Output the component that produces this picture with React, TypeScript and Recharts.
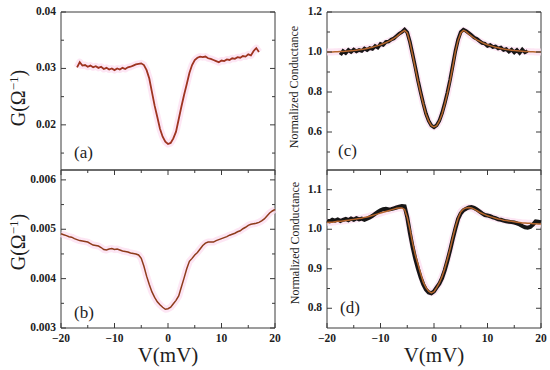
import React from 'react';
import { LineChart, Line, XAxis, YAxis, ReferenceArea } from 'recharts';

// bias voltage (mV), shared by all four panels
const volts = [
  -20, -19.5, -19, -18.5, -18, -17.5, -17, -16.5, -16, -15.5,
  -15, -14.5, -14, -13.5, -13, -12.5, -12, -11.5, -11, -10.5,
  -10, -9.5, -9, -8.5, -8, -7.5, -7, -6.5, -6, -5.5,
  -5, -4.5, -4, -3.5, -3, -2.5, -2, -1.5, -1, -0.5,
  0, 0.5, 1, 1.5, 2, 2.5, 3, 3.5, 4, 4.5,
  5, 5.5, 6, 6.5, 7, 7.5, 8, 8.5, 9, 9.5,
  10, 10.5, 11, 11.5, 12, 12.5, 13, 13.5, 14, 14.5,
  15, 15.5, 16, 16.5, 17, 17.5, 18, 18.5, 19, 19.5,
  20,
];

// (a) G (1/ohm)
const gA = [
  null, null, null, null, null, null, 0.0302, 0.0311, 0.0305, 0.0306,
  0.0303, 0.0305, 0.0302, 0.0304, 0.0301, 0.0303, 0.0299, 0.0301, 0.0298, 0.03,
  0.0297, 0.03, 0.0298, 0.0301, 0.0299, 0.0302, 0.0303, 0.0305, 0.0307, 0.0308,
  0.0309, 0.0306, 0.0297, 0.0282, 0.0258, 0.0234, 0.0214, 0.0193, 0.0179, 0.017,
  0.0166, 0.0168, 0.0176, 0.0188, 0.021, 0.0232, 0.0253, 0.0272, 0.0292, 0.0306,
  0.0315, 0.0319, 0.0321, 0.032, 0.0321, 0.0318, 0.0317, 0.0315, 0.0313, 0.0311,
  0.0314, 0.0313, 0.0316, 0.0315, 0.0318, 0.0317, 0.032, 0.0319, 0.0322, 0.0321,
  0.0325, 0.0323, 0.0331, 0.0336, 0.0329, null, null, null, null, null,
  null,
];

// (b) G (1/ohm)
const gB = [
  0.00491, 0.00489, 0.00487, 0.00485, 0.00484, 0.00481, 0.00479, 0.00477, 0.00476, 0.00475,
  0.00474, 0.00471, 0.00468, 0.00467, 0.00466, 0.00463, 0.00459, 0.00458, 0.0046, 0.00461,
  0.00459, 0.0046, 0.00458, 0.00456, 0.00455, 0.00454, 0.00452, 0.00451, 0.0045, 0.00448,
  0.00441, 0.00425, 0.00405, 0.00388, 0.00373, 0.00362, 0.00353, 0.00347, 0.00342, 0.00338,
  0.00339, 0.00342, 0.00349, 0.00356, 0.00365, 0.00383, 0.00401, 0.0042, 0.00435, 0.00441,
  0.00448, 0.00453, 0.0046, 0.00467, 0.00472, 0.00474, 0.00474, 0.00474, 0.00477, 0.00479,
  0.00481, 0.00483, 0.00485, 0.00488, 0.0049, 0.00492, 0.00495, 0.00497, 0.00501, 0.00504,
  0.00508, 0.0051, 0.00511, 0.00512, 0.00514, 0.00517, 0.00521, 0.00527, 0.00533, 0.00537,
  0.0054,
];

// (c) normalized conductance: fit and measured
const cFit = [
  1.0, 1.0, 1.0, 1.001, 1.001, 1.002, 1.003, 1.004, 1.005, 1.006,
  1.007, 1.009, 1.011, 1.013, 1.015, 1.018, 1.021, 1.024, 1.028, 1.032,
  1.036, 1.041, 1.047, 1.053, 1.06, 1.068, 1.077, 1.088, 1.1, 1.108,
  1.095, 1.048, 0.985, 0.92, 0.855, 0.795, 0.74, 0.69, 0.655, 0.632,
  0.625, 0.632, 0.655, 0.69, 0.738, 0.792, 0.855, 0.925, 1.002, 1.058,
  1.095, 1.108, 1.102, 1.09, 1.079, 1.07, 1.061, 1.054, 1.047, 1.041,
  1.036, 1.032, 1.028, 1.024, 1.021, 1.018, 1.015, 1.013, 1.011, 1.009,
  1.007, 1.006, 1.005, 1.004, 1.003, 1.002, 1.001, 1.001, 1.0, 1.0,
  1.0,
];
const cData = [
  null, null, null, null, null, 0.985, 1.005, 0.995, 1.01, 1.0,
  1.012, 1.003, 1.01, 1.005, 1.018, 1.01, 1.02, 1.015, 1.03, 1.022,
  1.04, 1.035, 1.05, 1.052, 1.062, 1.068, 1.08, 1.092, 1.1, 1.112,
  1.098, 1.05, 0.988, 0.925, 0.858, 0.798, 0.742, 0.692, 0.656, 0.633,
  0.624, 0.634, 0.656, 0.694, 0.742, 0.797, 0.86, 0.932, 1.005, 1.062,
  1.1, 1.112, 1.105, 1.095, 1.085, 1.072, 1.066, 1.055, 1.045, 1.042,
  1.03, 1.035, 1.025, 1.028, 1.018, 1.022, 1.01, 1.015, 1.002, 1.012,
  0.998, 1.01, 0.995, 1.012, 0.998, 1.005, null, null, null, null,
  null,
];

// (d) normalized conductance: fit and measured
const dFit = [
  1.017, 1.018, 1.018, 1.019, 1.02, 1.02, 1.021, 1.022, 1.023, 1.024,
  1.025, 1.026, 1.027, 1.028, 1.03, 1.031, 1.033, 1.035, 1.037, 1.039,
  1.041, 1.043, 1.045, 1.047, 1.049, 1.051, 1.053, 1.054, 1.054, 1.05,
  1.03, 1.0, 0.965, 0.935, 0.912, 0.888, 0.866, 0.852, 0.843, 0.839,
  0.842, 0.852, 0.864, 0.88, 0.9, 0.924, 0.95, 0.978, 1.005, 1.028,
  1.044, 1.051, 1.054, 1.055, 1.054, 1.051, 1.047, 1.043, 1.04, 1.037,
  1.034, 1.032, 1.03, 1.028, 1.026, 1.025, 1.023, 1.022, 1.021, 1.02,
  1.019, 1.018, 1.017, 1.016, 1.016, 1.015, 1.015, 1.014, 1.014, 1.013,
  1.013,
];
const dData = [
  1.022, 1.02, 1.024, 1.022, 1.025, 1.021, 1.024, 1.026, 1.023, 1.027,
  1.024, 1.028, 1.025, 1.027, 1.024, 1.027, 1.03, 1.034, 1.039, 1.044,
  1.048, 1.051, 1.052, 1.05, 1.051, 1.053, 1.055, 1.057, 1.059, 1.058,
  1.03, 0.99, 0.955, 0.925, 0.9, 0.878, 0.86, 0.847, 0.84, 0.838,
  0.843, 0.853, 0.862, 0.876, 0.896, 0.92, 0.946, 0.975, 1.002, 1.026,
  1.04, 1.048, 1.052, 1.055, 1.056, 1.054, 1.05, 1.045, 1.04, 1.036,
  1.035, 1.033, 1.03, 1.028, 1.025, 1.024, 1.022, 1.02, 1.019, 1.018,
  1.017, 1.015, 1.012, 1.008, 1.005, 1.004, 1.006, 1.012, 1.02, 1.019,
  1.018,
];

// ticks ('' = minor tick, no label)
const xTicks = [-20, -15, -10, -5, 0, 5, 10, 15, 20];
const xLabels = ['\u221220', '', '\u221210', '', '0', '', '10', '', '20'];
const aTicks = [0.015, 0.02, 0.025, 0.03, 0.035, 0.04];
const aLabels = ['', '0.02', '', '0.03', '', '0.04'];
const bTicks = [0.003, 0.0035, 0.004, 0.0045, 0.005, 0.0055, 0.006];
const bLabels = ['0.003', '', '0.004', '', '0.005', '', '0.006'];
const cTicks = [0.5, 0.6, 0.7, 0.8, 0.9, 1.0, 1.1, 1.2];
const cLabels = ['', '0.6', '', '0.8', '', '1.0', '', '1.2'];
const dTicks = [0.8, 0.85, 0.9, 0.95, 1.0, 1.05, 1.1];
const dLabels = ['0.8', '', '0.9', '', '1.0', '', '1.1'];

const rows = volts.map((v, i) => ({
  v, a: gA[i], b: gB[i], cFit: cFit[i], cData: cData[i], dFit: dFit[i], dData: dData[i],
}));

const serif = '"Liberation Serif", "DejaVu Serif", serif';
const axisColor = '#3a3a3a';
const halo = '#fcdcef';
const plotW = 214;
const plotH = 158;

const tickText = { fontFamily: serif, fontWeight: 700, fontSize: 11.5, fill: '#1e1e1e' };

function xTick(withLabels: boolean) {
  return (props: any) => {
    const { x, y, payload } = props;
    const t = xLabels[xTicks.indexOf(payload.value)];
    const len = t ? 5 : 3;
    return (
      <g>
        <line x1={x} x2={x} y1={y} y2={y - len} stroke={axisColor} />
        <line x1={x} x2={x} y1={y - plotH} y2={y - plotH + len} stroke={axisColor} />
        {withLabels && t ? (
          <text x={x} y={y + 14} textAnchor="middle" {...tickText}>{t}</text>
        ) : null}
      </g>
    );
  };
}

function yTick(ticks: number[], labels: string[]) {
  return (props: any) => {
    const { x, y, payload } = props;
    const t = labels[ticks.indexOf(payload.value)];
    const len = t ? 5 : 3;
    return (
      <g>
        <line x1={x} x2={x + len} y1={y} y2={y} stroke={axisColor} />
        <line x1={x + plotW - len} x2={x + plotW} y1={y} y2={y} stroke={axisColor} />
        {t ? (
          <text x={x - 5} y={y + 3} textAnchor="end" {...tickText}>{t}</text>
        ) : null}
      </g>
    );
  };
}

type PanelProps = {
  left: number;
  top: number;
  width: number;
  height: number;
  margin: { top: number; right: number; bottom: number; left: number };
  yWidth: number;
  xHeight: number;
  xText: boolean;
  domain: [number, number];
  ticks: number[];
  labels: string[];
  children: React.ReactNode;
};

function Panel(p: PanelProps) {
  return (
    <div style={{ position: 'absolute', left: p.left, top: p.top }}>
      <LineChart width={p.width} height={p.height} data={rows} margin={p.margin}>
        <XAxis
          dataKey="v" type="number" domain={[-20, 20]} ticks={xTicks} interval={0}
          height={p.xHeight} tickSize={0} tickMargin={0} axisLine={false} tickLine={false}
          tick={xTick(p.xText)}
        />
        <YAxis
          type="number" domain={p.domain} ticks={p.ticks} interval={0} allowDataOverflow
          width={p.yWidth} tickSize={0} tickMargin={0} axisLine={false} tickLine={false}
          tick={yTick(p.ticks, p.labels)}
        />
        <ReferenceArea
          x1={-20} x2={20} y1={p.domain[0]} y2={p.domain[1]}
          fill="none" stroke={axisColor} strokeWidth={1}
        />
        {p.children}
      </LineChart>
    </div>
  );
}

function haloLine(key: string) {
  return (
    <Line key={key + '-halo'} dataKey={key} stroke={halo} strokeWidth={7} strokeOpacity={0.7}
      dot={false} isAnimationActive={false} strokeLinejoin="round" />
  );
}

export default function App() {
  return (
    <div style={{ position: 'absolute', left: 0, top: 0, width: 550, height: 370, background: '#fff', overflow: 'hidden' }}>
      <Panel left={0} top={0} width={290} height={175} margin={{ top: 12, right: 15, bottom: 5, left: 0 }}
        yWidth={61} xHeight={0} xText={false} domain={[0.012, 0.04]} ticks={aTicks} labels={aLabels}>
        {haloLine('a')}
        <Line dataKey="a" stroke="#9e3420" strokeWidth={1.8} dot={false} isAnimationActive={false} />
      </Panel>

      <Panel left={0} top={165} width={290} height={205} margin={{ top: 5, right: 15, bottom: 0, left: 0 }}
        yWidth={61} xHeight={42} xText={true} domain={[0.003, 0.0062]} ticks={bTicks} labels={bLabels}>
        {haloLine('b')}
        <Line dataKey="b" stroke="#8e3b1b" strokeWidth={1.5} dot={false} isAnimationActive={false} />
      </Panel>

      <Panel left={275} top={0} width={275} height={175} margin={{ top: 12, right: 9, bottom: 5, left: 0 }}
        yWidth={52} xHeight={0} xText={false} domain={[0.41, 1.2]} ticks={cTicks} labels={cLabels}>
        {haloLine('cFit')}
        <Line dataKey="cData" stroke="#161616" strokeWidth={3.6} dot={false} isAnimationActive={false} />
        <Line dataKey="cFit" stroke="#b5652c" strokeWidth={1.5} dot={false} isAnimationActive={false} />
      </Panel>

      <Panel left={275} top={165} width={275} height={205} margin={{ top: 5, right: 9, bottom: 0, left: 0 }}
        yWidth={52} xHeight={42} xText={true} domain={[0.75, 1.15]} ticks={dTicks} labels={dLabels}>
        {haloLine('dFit')}
        <Line dataKey="dData" stroke="#161616" strokeWidth={4} dot={false} isAnimationActive={false} />
        <Line dataKey="dFit" stroke="#b5652c" strokeWidth={1.5} dot={false} isAnimationActive={false} />
      </Panel>

      <svg width={550} height={370} style={{ position: 'absolute', left: 0, top: 0, pointerEvents: 'none' }}
        fontFamily={serif} fill="#1e1e1e">
        <text x={25} y={98} transform="rotate(-90 25 98)" textAnchor="middle" fontSize={20}>
          G(Ω<tspan dy={-7} fontSize={13}>−1</tspan><tspan dy={7}>)</tspan>
        </text>
        <text x={25} y={242} transform="rotate(-90 25 242)" textAnchor="middle" fontSize={20}>
          G(Ω<tspan dy={-7} fontSize={13}>−1</tspan><tspan dy={7}>)</tspan>
        </text>
        <text x={298} y={87} transform="rotate(-90 298 87)" textAnchor="middle" fontSize={12}>
          Normalized Conductance
        </text>
        <text x={299} y={243} transform="rotate(-90 299 243)" textAnchor="middle" fontSize={12}>
          Normalized Conductance
        </text>
        <text x={168} y={362} textAnchor="middle" fontSize={21}>V(mV)</text>
        <text x={434} y={362} textAnchor="middle" fontSize={21}>V(mV)</text>
        <text x={74} y={158} fontSize={17}>(a)</text>
        <text x={74} y={318} fontSize={17}>(b)</text>
        <text x={338} y={156} fontSize={17}>(c)</text>
        <text x={340} y={313} fontSize={17}>(d)</text>
      </svg>
    </div>
  );
}
